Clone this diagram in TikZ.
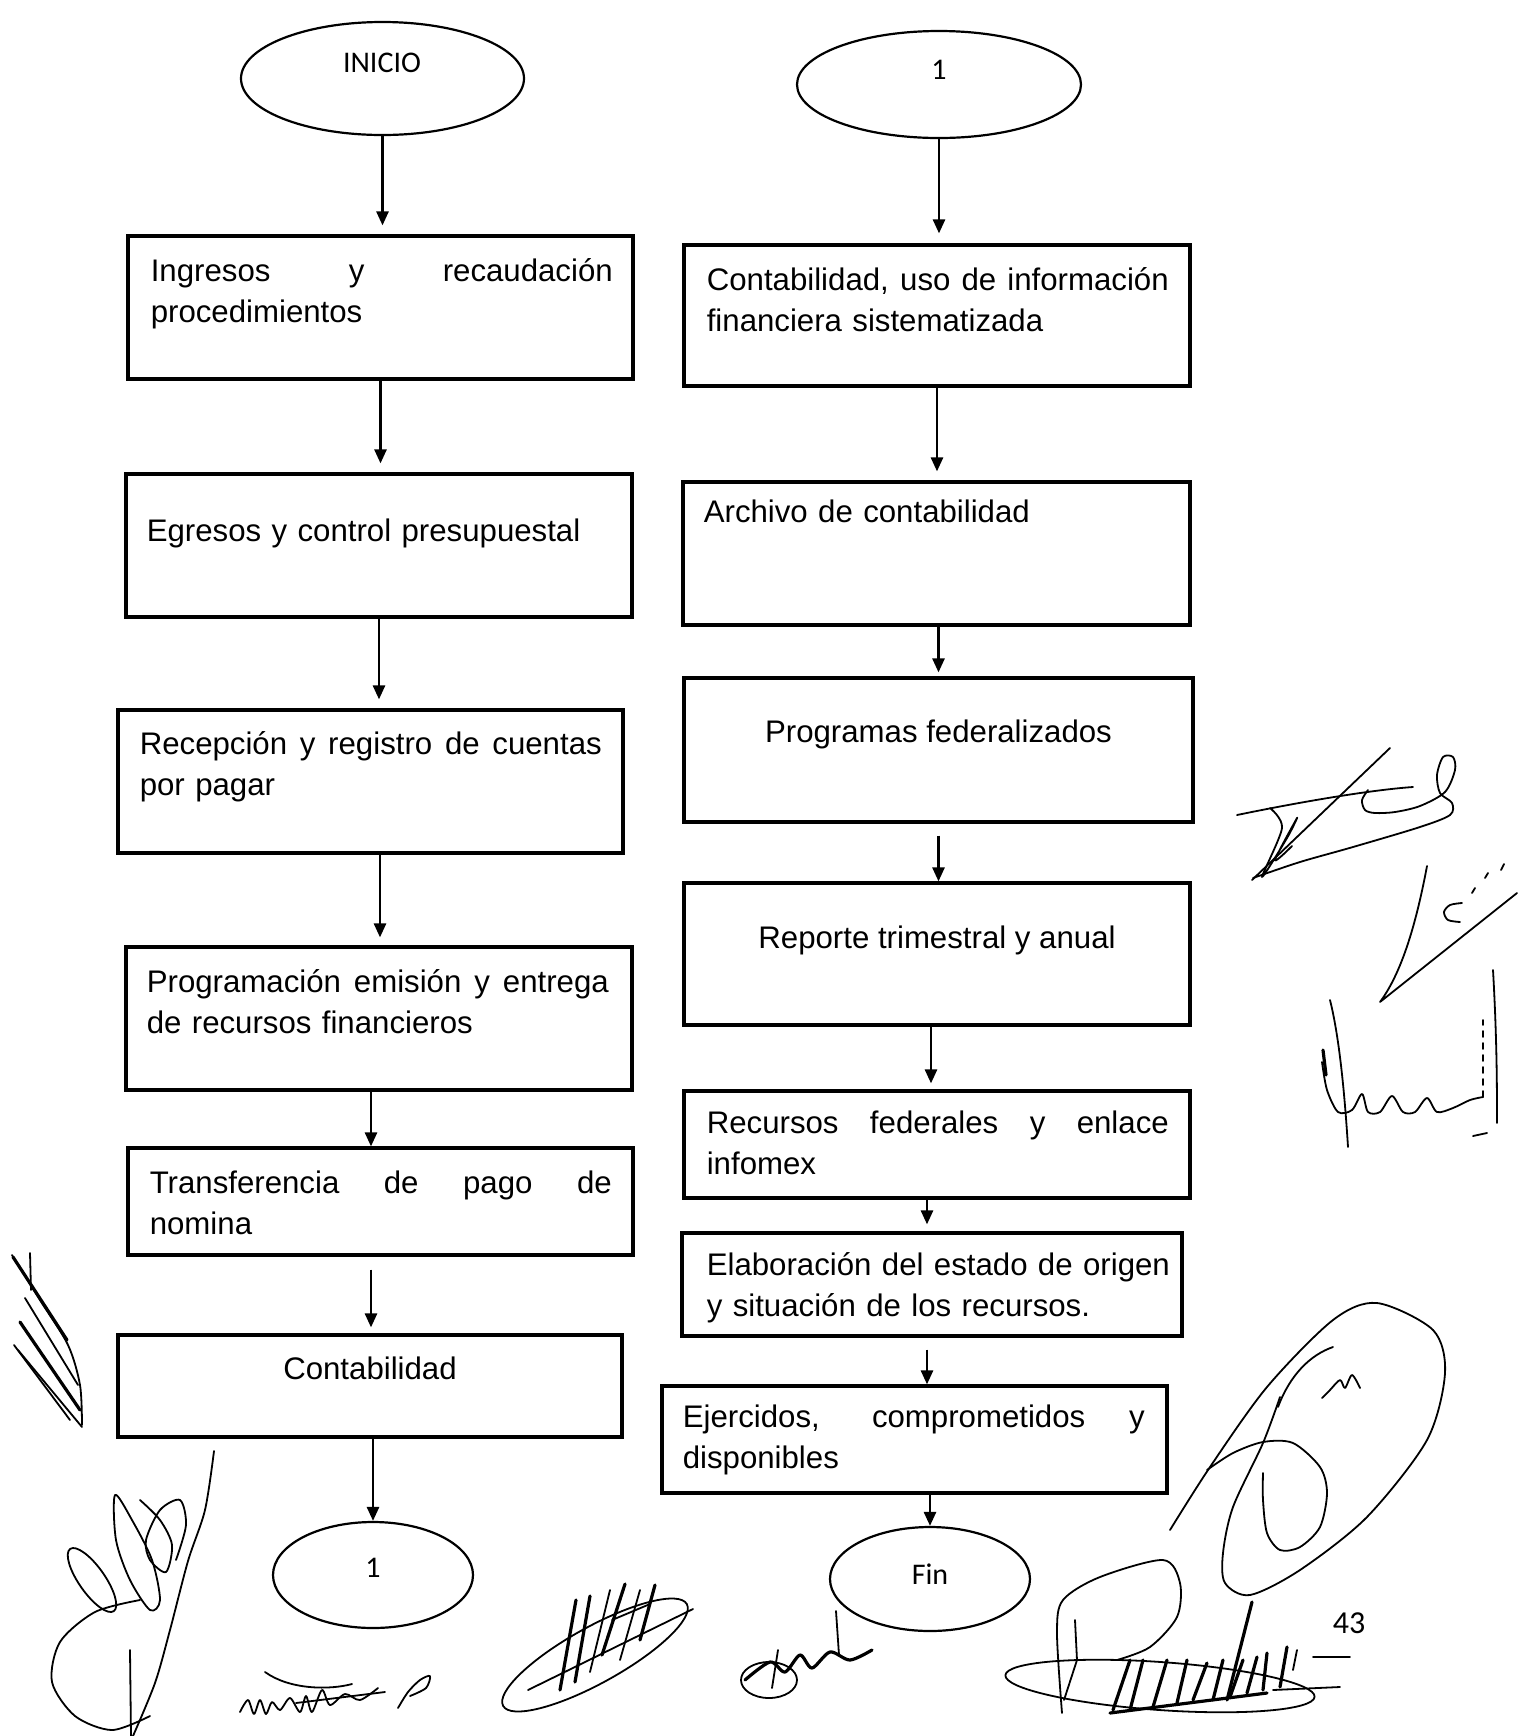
\documentclass[tikz,border=0pt]{standalone}
\usepackage{fontspec}
\setmainfont{Liberation Sans}
\newfontfamily\calfont{Carlito}
\usetikzlibrary{arrows.meta,shapes.geometric}

% a first line set flush with both margins of the box text
\newcommand{\fullline}[1]{\makebox[231pt][s]{\spaceskip=0.3333em plus 1fil\relax #1}}

\begin{document}
\begin{tikzpicture}[x=0.5pt,y=-0.5pt,
  stepbox/.style={draw, line width=1.6pt, rectangle, inner sep=0pt},
  term/.style={draw, line width=1.1pt, ellipse, inner sep=0pt},
  txt/.style={inner sep=0pt, font=\fontsize{15.6}{20.75}\selectfont},
  para/.style={txt, text width=240pt, align=left, anchor=base west},
  ctxt/.style={txt, anchor=base},
  etxt/.style={inner sep=0pt, anchor=base, font=\calfont\fontsize{15}{18}\selectfont},
  arr/.style={line width=1.3pt, -{Triangle[width=6pt,length=7pt]}},
  sig/.style={line width=0.9pt, line cap=round, line join=round},
  sigb/.style={sig, line width=1.6pt},
]
\path[use as bounding box] (0,0) rectangle (1517,1736);

% ---------------- left column ----------------
\node[term, minimum width=141.5pt, minimum height=56.5pt] (e1) at (382.5,78.5) {};
\node[etxt] (t-e1) at (382,72) {INICIO};

\node[stepbox, minimum width=252.5pt, minimum height=71.5pt] (b1) at (380.5,307.5) {};
\node[para] (t-b1) at ([shift={(24,47)}]b1.north west)
  {\fullline{Ingresos y recaudación}\\procedimientos};

\node[stepbox, minimum width=253pt, minimum height=71.5pt] (b2) at (379,545.5) {};
\node[para] (t-b2) at ([shift={(22,69)}]b2.north west) {\mbox{Egresos y control presupuestal}};

\node[stepbox, minimum width=252.5pt, minimum height=71.5pt] (b3) at (370.5,781.5) {};
\node[para] (t-b3) at ([shift={(23,46)}]b3.north west)
  {\fullline{Recepción y registro de cuentas}\\por pagar};

\node[stepbox, minimum width=253pt, minimum height=71.5pt] (b4) at (379,1018.5) {};
\node[para] (t-b4) at ([shift={(22,47)}]b4.north west)
  {\fullline{Programación emisión y entrega}\\de recursos financieros};

\node[stepbox, minimum width=252.5pt, minimum height=53.5pt] (b5) at (380.5,1201.5) {};
\node[para] (t-b5) at ([shift={(23,47)}]b5.north west)
  {\fullline{Transferencia de pago de}\\nomina};

\node[stepbox, minimum width=252pt, minimum height=51pt] (b6) at (370,1386) {};
\node[ctxt] (t-b6) at ([shift={(0,46)}]b6.north) {Contabilidad};

\node[term, minimum width=100pt, minimum height=53pt] (e3) at (373,1575) {};
\node[etxt] (t-e3) at (373,1577) {1};

% ---------------- right column ----------------
\node[term, minimum width=142pt, minimum height=53.5pt] (e2) at (939,84.5) {};
\node[etxt] (t-e2) at (939,79) {1};

\node[stepbox, minimum width=253pt, minimum height=70.5pt] (r1) at (937,315.5) {};
\node[para] (t-r1) at ([shift={(24,47)}]r1.north west)
  {\fullline{Contabilidad, uso de información}\\financiera sistematizada};

\node[stepbox, minimum width=253.5pt, minimum height=71.5pt] (r2) at (936.5,553.5) {};
\node[para] (t-r2) at ([shift={(22,42)}]r2.north west) {Archivo de contabilidad};

\node[stepbox, minimum width=254.5pt, minimum height=72pt] (r3) at (938.5,750) {};
\node[ctxt] (t-r3) at ([shift={(0,66)}]r3.north) {Programas federalizados};

\node[stepbox, minimum width=253pt, minimum height=71pt] (r4) at (937,954) {};
\node[ctxt] (t-r4) at ([shift={(0,67)}]r4.north) {Reporte trimestral y anual};

\node[stepbox, minimum width=253pt, minimum height=53.5pt] (r5) at (937,1144.5) {};
\node[para] (t-r5) at ([shift={(24,44)}]r5.north west)
  {\fullline{Recursos federales y enlace}\\infomex};

\node[stepbox, minimum width=250pt, minimum height=51.5pt] (r6) at (932,1284.5) {};
\node[para] (t-r6) at ([shift={(26,44)}]r6.north west)
  {\mbox{Elaboración del estado de origen}\\y situación de los recursos.};

\node[stepbox, minimum width=252.5pt, minimum height=53.5pt] (r7) at (914.5,1439.5) {};
\node[para] (t-r7) at ([shift={(22,43)}]r7.north west)
  {\fullline{Ejercidos, comprometidos y}\\disponibles};

\node[term, minimum width=100pt, minimum height=52pt] (e4) at (930,1579) {};
\node[etxt] (t-e4) at (930,1584) {Fin};

\node[inner sep=0pt, anchor=base, font=\calfont\fontsize{16}{19}\selectfont] (pg) at (1349,1633) {43};

% ---------------- connectors ----------------
\draw[arr, shorten >=4.5pt] (e1.south) -- (e1.south |- b1.north);
\draw[arr, shorten >=4.5pt] (b1.south) -- (b1.south |- b2.north);
\draw[arr, shorten >=4.5pt] (b2.south) -- (b2.south |- b3.north);
\draw[arr, shorten >=4pt] ([shift={(9.5,0)}]b3.south) -- ([shift={(9.5,0)}]b3.south |- b4.north);
\draw[arr] ([shift={(-8,0)}]b4.south) -- ([shift={(-8,0)}]b4.south |- b5.north);
\draw[arr, shorten <=6.5pt, shorten >=3pt] ([shift={(-9.5,0)}]b5.south) -- ([shift={(-9.5,0)}]b5.south |- b6.north);
\draw[arr] (e3.north |- b6.south) -- (e3.north);

\draw[arr, shorten >=5pt] (e2.south) -- (e2.south |- r1.north);
\draw[arr, shorten >=4.5pt] (r1.south) -- (r1.south |- r2.north);
\draw[arr, shorten >=2pt] (r3.north |- r2.south) -- (r3.north);
\draw[arr, shorten <=6pt] (r3.south) -- (r3.south |- r4.north);
\draw[arr, shorten >=3pt] ([shift={(-6,0)}]r4.south) -- ([shift={(-6,0)}]r4.south |- r5.north);
\draw[arr, shorten >=3.5pt] ([shift={(-10,0)}]r5.south) -- ([shift={(-10,0)}]r5.south |- r6.north);
\draw[arr, shorten <=6pt] ([shift={(-5,0)}]r6.south) -- ([shift={(-5,0)}]r6.south |- r7.north);
\draw[arr] (e4.north |- r7.south) -- (e4.north);

% ---------------- handwritten signatures ----------------
% upper right
\draw[sig] (1237,815) .. controls (1300,802) and (1370,790) .. (1413,787);
\draw[sig] (1252,880) -- (1390,748);
\draw[sig] plot[smooth] coordinates {(1253,878) (1300,862) (1353,847) (1420,827) (1450,815) (1452,803) (1440,793) (1437,775) (1443,757) (1453,757) (1455,770) (1445,792) (1420,806) (1395,812) (1375,813) (1365,810) (1362,800) (1368,790)};
\draw[sig] plot[smooth] coordinates {(1270,808) (1282,828) (1262,877) (1287,838) (1297,818) (1275,860) (1292,846)};
\draw[sig] (1427,866) .. controls (1415,930) and (1400,975) .. (1380,1002) -- (1517,893);
\draw[sig] plot[smooth] coordinates {(1462,903) (1450,905) (1444,912) (1448,920) (1460,922)};
\draw[sig] (1472,893) -- (1475,888);
\draw[sig] (1485,878) -- (1488,873);
\draw[sig] (1501,870) -- (1504,864);
\draw[sig] (1330,1000) .. controls (1340,1040) and (1345,1100) .. (1348,1147);
\draw[sig] plot[smooth] coordinates {(1322,1062) (1327,1090) (1338,1112) (1352,1110) (1362,1094) (1368,1112) (1380,1112) (1392,1096) (1403,1112) (1415,1112) (1427,1098) (1437,1112) (1453,1108) (1470,1100) (1483,1097)};
\draw[sig, dashed] (1483,1097) -- (1483,1020);
\draw[sigb] (1323,1050) -- (1326,1075);
\draw[sig] (1493,970) .. controls (1497,1040) and (1497,1090) .. (1497,1123);
\draw[sig] (1473,1136) -- (1487,1133);

% left margin
\draw[sig] plot[smooth] coordinates {(12,1255) (40,1300) (68,1345) (80,1385) (82,1425)};
\draw[sigb] (13,1257) -- (67,1340);
\draw[sig] (25,1298) -- (78,1385);
\draw[sigb] (20,1322) -- (80,1410);
\draw[sig] (18,1350) -- (82,1427);
\draw[sig] (14,1345) -- (70,1420);
\draw[sig] (30,1253) -- (31,1290);

% lower left
\draw[sig] plot[smooth] coordinates {(214,1451) (205,1510) (188,1561) (170,1630) (155,1683) (133,1736)};
\draw[sig] plot[smooth cycle] coordinates {(115,1495) (132,1520) (152,1560) (160,1600) (150,1610) (130,1580) (116,1540)};
\draw[sig, rotate around={-55:(92,1580)}] (92,1580) ellipse [x radius=38, y radius=13];
\draw[sig] plot[smooth] coordinates {(140,1600) (95,1612) (60,1642) (52,1682) (75,1716) (112,1730) (150,1716)};
\draw[sig] (130,1650) -- (131,1736);
\draw[sig] plot[smooth] coordinates {(140,1500) (160,1520) (172,1545) (166,1572) (150,1560) (146,1540) (160,1510) (180,1500) (186,1525) (176,1560)};
\draw[sig] plot[smooth] coordinates {(240,1712) (248,1700) (254,1714) (260,1700) (266,1714) (272,1702) (280,1710) (290,1698) (300,1712) (306,1696) (312,1712) (322,1690) (330,1705) (345,1694) (360,1700) (378,1688)};
\draw[sig] (296,1703) -- (385,1692);
\draw[sig] (265,1672) .. controls (290,1690) and (330,1690) .. (352,1684);
\draw[sig] plot[smooth] coordinates {(398,1708) (408,1692) (420,1680) (430,1676) (426,1688) (410,1696)};

% lower middle
\draw[sig, rotate around={29:(595,1655)}] (595,1655) ellipse [x radius=105, y radius=28];
\draw[sig] (528,1690) -- (693,1609);
\draw[sigb] (560,1690) -- (576,1600);
\draw[sigb] (575,1682) -- (590,1596);
\draw[sig] (590,1672) -- (610,1590);
\draw[sigb] (602,1655) -- (625,1584);
\draw[sig] (620,1660) -- (640,1590);
\draw[sigb] (640,1640) -- (655,1585);
\draw[sig] (612,1620) -- (650,1604);

\draw[sig] (769,1680) ellipse [x radius=28, y radius=18];
\draw[sigb] plot[smooth] coordinates {(745,1680) (770,1662) (785,1672) (800,1655) (812,1668) (830,1652) (850,1660) (872,1650)};
\draw[sig] (778,1650) -- (772,1688);
\draw[sig] (836,1611) -- (839,1655);

% lower right
\draw[sig] plot[smooth] coordinates {(1170,1530) (1210,1467) (1267,1387) (1333,1320) (1377,1303) (1433,1330) (1445,1373) (1427,1440) (1367,1517) (1300,1570) (1250,1595) (1225,1583) (1223,1553) (1233,1507) (1263,1443) (1280,1397)};
\draw[sig] (1278,1407) .. controls (1290,1375) and (1310,1355) .. (1333,1347);
\draw[sig] plot[smooth] coordinates {(1207,1470) (1233,1453) (1263,1442) (1293,1443) (1320,1467) (1327,1493) (1320,1527) (1300,1547) (1280,1550) (1267,1533) (1263,1500) (1263,1473)};
\draw[sig] plot[smooth] coordinates {(1322,1398) (1330,1390) (1340,1380) (1345,1388) (1352,1375) (1360,1388)};
\draw[sig] plot[smooth] coordinates {(1062,1713) (1057,1633) (1063,1600) (1100,1577) (1163,1560) (1180,1583) (1177,1617) (1150,1647) (1117,1660)};
\draw[sig] (1075,1620) -- (1077,1660) -- (1064,1700);
\draw[sig, rotate around={-4:(1160,1686)}] (1160,1686) ellipse [x radius=155, y radius=24];
\draw[sigb] (1113,1710) -- (1130,1660);
\draw[sigb] (1130,1710) -- (1143,1660);
\draw[sigb] (1153,1707) -- (1167,1660);
\draw[sigb] (1177,1703) -- (1187,1660);
\draw[sigb] (1193,1700) -- (1207,1663);
\draw[sigb] (1213,1700) -- (1223,1660);
\draw[sigb] (1230,1697) -- (1243,1660);
\draw[sigb] (1247,1693) -- (1257,1657);
\draw[sigb] (1263,1690) -- (1267,1653);
\draw[sigb] (1280,1687) -- (1287,1647);
\draw[sig] (1293,1670) -- (1297,1650);
\draw[sigb] (1252,1602) -- (1227,1700);
\draw[sigb] (1110,1713) -- (1267,1693);
\draw[sig] (1313,1657) -- (1350,1657);
\draw[sig] (1273,1690) -- (1340,1687);
\end{tikzpicture}
\end{document}
